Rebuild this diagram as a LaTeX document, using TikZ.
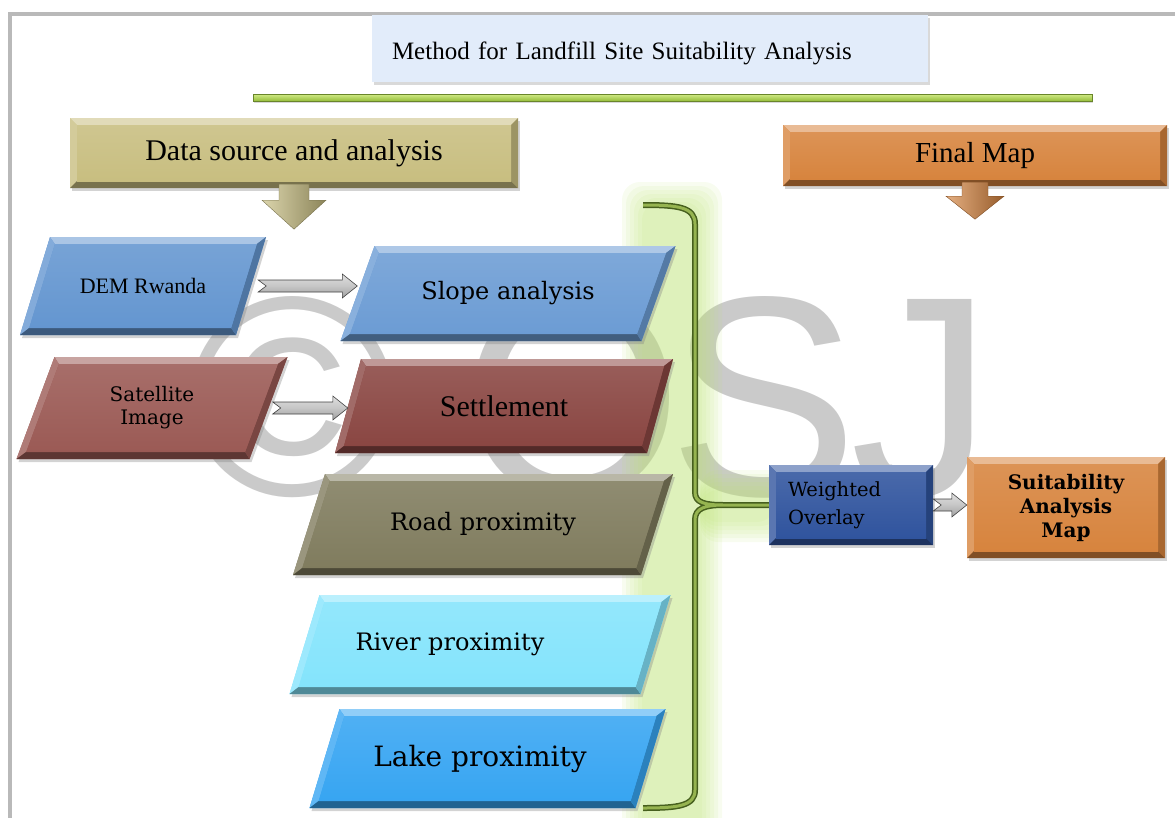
\documentclass[tikz,border=0pt]{standalone}
\usepackage{fontspec}
\setmainfont{Liberation Serif}
\newfontfamily\dvserif{DejaVu Serif}
\newfontfamily\wmsans{Liberation Sans}
\usetikzlibrary{calc,shadows}

\definecolor{framegray}{RGB}{185,185,185}
\definecolor{titleblue}{RGB}{226,236,250}
\definecolor{barlight}{RGB}{210,235,135}
\definecolor{bardark}{RGB}{150,190,60}
\definecolor{khaki}{RGB}{200,190,128}
\definecolor{mapor}{RGB}{215,132,62}
\definecolor{demblue}{RGB}{100,150,208}
\definecolor{slopeblue}{RGB}{108,156,212}
\definecolor{satred}{RGB}{155,90,85}
\definecolor{setred}{RGB}{138,70,66}
\definecolor{roadol}{RGB}{128,124,94}
\definecolor{rivercy}{RGB}{132,228,252}
\definecolor{lakebl}{RGB}{55,165,242}
\definecolor{wodark}{RGB}{48,84,158}
\definecolor{wmgray}{RGB}{202,202,202}
\definecolor{glowgreen}{RGB}{190,228,120}
\definecolor{bracedark}{RGB}{70,95,30}
\definecolor{bracegreen}{RGB}{150,180,80}

\pgfdeclarelayer{background}
\pgfsetlayers{background,main}

\tikzset{
  grayarr/.style={top color=gray!25, bottom color=gray!75, middle color=gray!45, draw=gray!50!black, line width=0.6pt},
  titletext/.style={text width=516pt, inner sep=0pt, align=left, font=\fontsize{25}{30}\selectfont},
  wmark/.style={text=wmgray, font=\wmsans\fontsize{285}{285}\selectfont, inner sep=0pt, anchor=base west},
  glowlayer/.style={fill=glowgreen, opacity=0.11, rounded corners=18pt},
}

% bevelled box: name, centre, side, height, slant, colour, text keys, text
\newcommand{\slbox}[8]{%
  \begin{scope}[shift={#2}]
    \pgfmathsetmacro{\hwid}{#3/2}
    \pgfmathsetmacro{\hhei}{#4/2}
    \pgfmathsetmacro{\hsl}{#5/2}
    \pgfmathsetmacro{\iwid}{#3/2-7}
    \pgfmathsetmacro{\ihei}{#4/2-7}
    \pgfmathsetmacro{\isl}{#5/2*(#4-14)/#4}
    \fill[#6, drop shadow={shadow xshift=2pt, shadow yshift=-3pt, opacity=.35}]
      (-\hwid-\hsl,\hhei) -- (\hwid-\hsl,\hhei) -- (\hwid+\hsl,-\hhei) -- (-\hwid+\hsl,-\hhei) -- cycle;
    \fill[#6!55!white] (-\hwid+\hsl,-\hhei) -- (\hwid+\hsl,-\hhei) -- (\iwid+\isl,-\ihei) -- (-\iwid+\isl,-\ihei) -- cycle;
    \fill[#6!80!white] (-\hwid-\hsl,\hhei) -- (-\hwid+\hsl,-\hhei) -- (-\iwid+\isl,-\ihei) -- (-\iwid-\isl,\ihei) -- cycle;
    \fill[#6!60!black] (-\hwid-\hsl,\hhei) -- (\hwid-\hsl,\hhei) -- (\iwid-\isl,\ihei) -- (-\iwid-\isl,\ihei) -- cycle;
    \fill[#6!78!black] (\hwid-\hsl,\hhei) -- (\hwid+\hsl,-\hhei) -- (\iwid+\isl,-\ihei) -- (\iwid-\isl,\ihei) -- cycle;
    \shade[top color=#6!88!white, bottom color=#6]
      (-\iwid-\isl,\ihei) -- (\iwid-\isl,\ihei) -- (\iwid+\isl,-\ihei) -- (-\iwid+\isl,-\ihei) -- cycle;
    \node[minimum width=#3pt, minimum height=#4pt, inner sep=0pt, align=center, #7] (#1) at (0,0) {#8};
  \end{scope}}

% fat grey arrow between two nodes
\newcommand{\grayarrow}[3]{%
  \path[grayarr] let \p1=(#1.east), \p2=(#2.west) in
    (\x1+#3pt,\y1+6pt) -- (\x2-15pt,\y1+6pt) -- (\x2-15pt,\y1+12pt) -- (\x2,\y1)
    -- (\x2-15pt,\y1-12pt) -- (\x2-15pt,\y1-6pt) -- (\x1+#3pt,\y1-6pt) -- (\x1+#3pt+8pt,\y1) -- cycle;}

% block arrow under a heading box
\newcommand{\dnarrow}[6]{%
  \shade[left color=#2!65!white, middle color=#2, right color=#2!70!black, draw=#2!60!black, line width=0.4pt,
    shift={(#1.south)}]
    (-#3,-4) -- (#3,-4) -- (#3,#5) -- (#4,#5) -- (0,#6) -- (-#4,#5) -- (-#3,#5) -- cycle;}

\newcommand{\bracepath}{(643,205) .. controls (678,205) and (695,207) .. (695,224) -- (695,492)
  .. controls (695,503) and (705,505) .. (724,505) -- (wo.west)
  (724,505) .. controls (705,505) and (695,508) .. (695,520) -- (695,790)
  .. controls (695,806) and (678,808) .. (643,808)}

\begin{document}
\begin{tikzpicture}[x=1pt,y=-1pt]
  \useasboundingbox (0,0) rectangle (1175,817);
  \clip (0,0) rectangle (1175,817);

  % watermark
  \begin{pgfonlayer}{background}
    \node[wmark] (wmc) at (187,495) {©};
    \node[wmark] (wmo) at (461,495) {O};
    \node[wmark] (wms) at (668,495) {S};
    \node[wmark] (wmdot) at (839,495) {.};
    \node[wmark] (wmj) at (850,495) {J};
  \end{pgfonlayer}

  % frame
  \draw[framegray, line width=4pt] (10,830) -- (10,13.5) -- (1190,13.5);

  % title and bar
  \fill[titleblue, drop shadow={shadow xshift=2pt, shadow yshift=-3pt, opacity=.3}] (372,15) rectangle (928,82);
  \node[titletext] (title) at (650,53) {Method for Landfill Site Suitability Analysis};
  \shade[top color=barlight, bottom color=bardark, draw=bardark!70!black, line width=0.5pt,
    drop shadow={shadow xshift=1pt, shadow yshift=-2pt, opacity=.3}] (253,94) rectangle (1092,101);

  % headings
  \slbox{data}{(294,153)}{448}{70}{0}{khaki}{font=\fontsize{30}{34}\selectfont}{Data source and analysis}
  \slbox{final}{(975,155.5)}{384}{61}{0}{mapor}{font=\fontsize{29}{34}\selectfont}{Final Map}
  \dnarrow{data}{khaki}{15}{32}{12}{41}
  \dnarrow{final}{mapor}{13}{29}{10}{33}

  % inputs
  \slbox{dem}{(143,286)}{216}{98}{30}{demblue}{font=\fontsize{22}{26}\selectfont}{DEM Rwanda}
  \slbox{slope}{(508,293.5)}{301}{95}{34}{slopeblue}{font=\dvserif\fontsize{24}{28}\selectfont}{Slope analysis}
  \slbox{sat}{(152,408)}{233}{102}{38}{satred}{font=\dvserif\fontsize{20}{23}\selectfont}{Satellite\\Image}
  \slbox{settle}{(504,406)}{312}{94}{26}{setred}{font=\fontsize{30}{34}\selectfont}{Settlement}
  \slbox{road}{(483,524.5)}{348}{101}{32}{roadol}{font=\dvserif\fontsize{24}{28}\selectfont}{Road proximity}
  \slbox{river}{(480,644.5)}{351}{99}{30}{rivercy}{font=\dvserif\fontsize{24}{28}\selectfont}{River proximity\hspace*{60pt}}
  \slbox{lake}{(487.5,758.5)}{326}{99}{30}{lakebl}{font=\dvserif\fontsize{28}{32}\selectfont}{Lake proximity\hspace*{15pt}}

  % overlay and result
  \slbox{wo}{(851,505)}{164}{80}{0}{wodark}{font=\dvserif\fontsize{19.5}{28}\selectfont, text width=126pt, align=left}{Weighted\\Overlay}
  \slbox{suit}{(1066,507.5)}{198}{101}{0}{mapor}{font=\dvserif\bfseries\fontsize{20}{24}\selectfont}{Suitability\\Analysis\\Map}

  \grayarrow{dem}{slope}{7}
  \grayarrow{sat}{settle}{4}
  \grayarrow{wo}{suit}{0}

  % brace with glow
  \begin{pgfonlayer}{background}
    \foreach \k in {0,4,...,20} {
      \fill[glowlayer] (622+\k,182+\k) rectangle (722-\k,840);
      \fill[glowlayer] (700,470+\k) rectangle (795-\k,542-\k);
    }
  \end{pgfonlayer}
  \draw[bracedark, line width=6pt, line join=round] \bracepath;
  \draw[bracegreen, line width=3pt, line join=round] \bracepath;
\end{tikzpicture}
\end{document}
